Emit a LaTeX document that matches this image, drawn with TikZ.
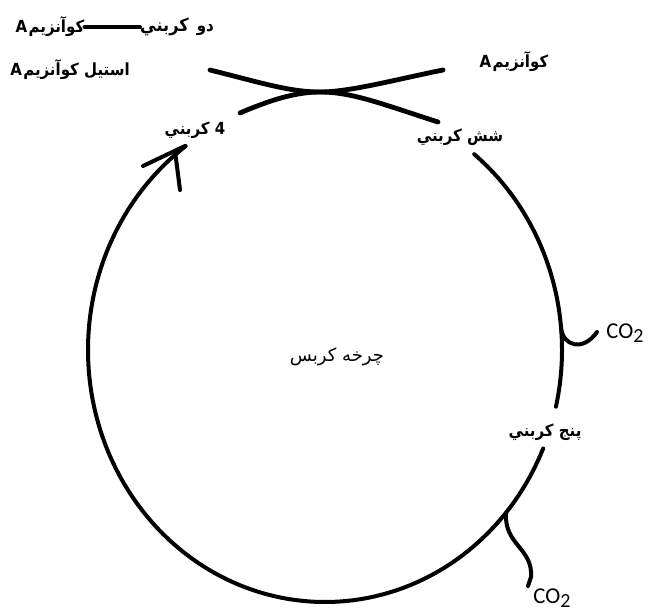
\documentclass[tikz,border=0pt]{standalone}
\usepackage{fontspec}
\TeXXeTstate=1
\setmainfont{Carlito}
\newfontfamily\arabicfont[Script=Arabic]{DejaVu Sans}
\newfontfamily\arabicnarrow[Script=Arabic,FakeStretch=0.9]{DejaVu Sans}
\begin{document}
\begin{tikzpicture}[x=0.75pt,y=-0.75pt,
  lbl/.style={font=\arabicnarrow\bfseries\fontsize{12.5}{14}\selectfont, inner sep=0pt},
  lblreg/.style={font=\arabicfont\fontsize{13.5}{15}\selectfont, inner sep=0pt},
  cotext/.style={font=\fontsize{17}{19}\selectfont, inner sep=0pt},
  stroke/.style={line width=3pt, line cap=round, line join=round},
  thick stroke/.style={line width=3.6pt, line cap=round}]
\useasboundingbox (0,0) rectangle (648,614);
\fill[white] (0,0) rectangle (648,614);
% labels
\node[lbl] (d2) at (177,27) {\beginR دو\kern6pt \fontsize{13.5}{15}\selectfont کربني\endR};
\node[lbl] (coA1) at (50,27) {\beginR کوآنزیم\kern1pt A\endR};
\draw[stroke] (coA1.east) -- (d2.west);
\node[lbl] (acet) at (70,70) {\beginR استیل کوآنزیم\kern1pt A\endR};
\node[lbl] (coA2) at (514,62) {\beginR کوآنزیم\kern1pt A\endR};
\node[lbl] (c4) at (195,130) {\beginR 4 کربني\endR};
\node[lbl] (c6) at (460,137) {\beginR شش کربني\endR};
\node[lblreg] (krebs) at (337,357) {\beginR چرخه کربس\endR};
\node[lbl] (c5) at (545,432) {\beginR پنج کربني\endR};
\node[cotext] (co2a) at (625,333) {CO\raisebox{-0.4ex}{\fontsize{15}{17}\selectfont 2}};
\node[cotext] (co2b) at (552,598) {CO\raisebox{-0.4ex}{\fontsize{15}{17}\selectfont 2}};
% crossing lines (acetyl CoA entering)
\coordinate (xa1) at (210,70);
\coordinate (xa2) at (438,122);
\coordinate (xb1) at (443,70);
\coordinate (xb2) at (240,113);
\coordinate (xm) at (320,92);
\draw[thick stroke] (xa1) .. controls (262,83) and (290,92) .. (xm) .. controls (352,92) and (382,104) .. (xa2);
\draw[thick stroke] (xb1) .. controls (398,79) and (350,92) .. (xm) .. controls (296,92) and (270,100) .. (xb2);
% main cycle
\draw[stroke] plot[domain=126:337, samples=120, smooth] ({325+237*cos(\x)},{350-252*sin(\x)});
\draw[stroke] plot[domain=347:411, samples=60, smooth] ({325+237*cos(\x)},{350-252*sin(\x)});
% arrow head at 4-carbon
\coordinate (tip) at (185,146);
\coordinate (barbL) at (143,166);
\coordinate (barbRs) at (175,151);
\coordinate (barbR) at (180,190);
\draw[stroke] (tip) -- (barbL);
\draw[stroke] (barbRs) -- (barbR);
% CO2 branches
\coordinate (br1) at (561,328);
\coordinate (br1e) at (597,332);
\draw[stroke] (br1) .. controls (563,346) and (583,352) .. (br1e);
\coordinate (br2) at (506,513);
\coordinate (br2m) at (531,577);
\coordinate (br2e) at (528,586);
\draw[stroke] (br2) .. controls (504,545) and (533,548) .. (br2m) -- (br2e);
\end{tikzpicture}
\end{document}
